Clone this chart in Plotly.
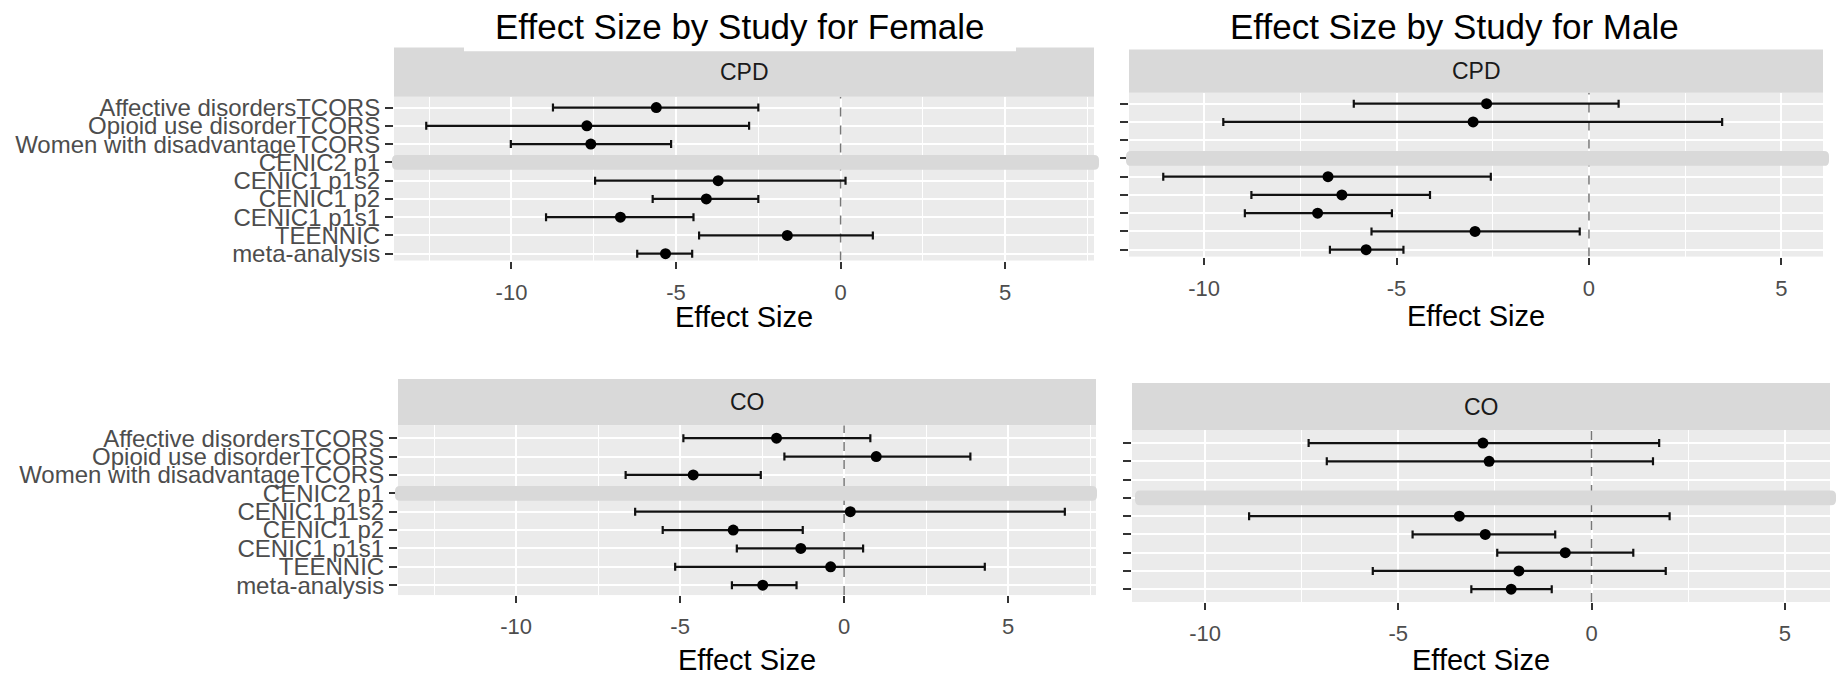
import plotly.graph_objects as go

# ---- data -------------------------------------------------------------
studies = [
    "Affective disordersTCORS",
    "Opioid use disorderTCORS",
    "Women with disadvantageTCORS",
    "CENIC2 p1",
    "CENIC1 p1s2",
    "CENIC1 p2",
    "CENIC1 p1s1",
    "TEENNIC",
    "meta-analysis",
]
x_ticks = [-10, -5, 0, 5]

female_cpd_est = [-5.60, -7.71, -7.59, None, -3.72, -4.08, -6.69, -1.62, -5.32]
female_cpd_lo = [-8.74, -12.59, -10.02, None, -7.46, -5.71, -8.95, -4.30, -6.18]
female_cpd_hi = [-2.50, -2.78, -5.15, None, 0.15, -2.50, -4.47, 0.98, -4.51]

male_cpd_est = [-2.66, -3.01, None, None, -6.78, -6.42, -7.05, -2.96, -5.79]
male_cpd_lo = [-6.11, -9.50, None, None, -11.06, -8.77, -8.94, -5.65, -6.73]
male_cpd_hi = [0.77, 3.46, None, None, -2.55, -4.13, -5.12, -0.24, -4.82]

female_co_est = [-2.06, 0.98, -4.60, None, 0.19, -3.38, -1.32, -0.41, -2.48]
female_co_lo = [-4.90, -1.82, -6.66, None, -6.37, -5.53, -3.27, -5.15, -3.42]
female_co_hi = [0.80, 3.85, -2.54, None, 6.73, -1.26, 0.58, 4.29, -1.45]

male_co_est = [-2.81, -2.65, None, None, -3.42, -2.75, -0.68, -1.88, -2.08]
male_co_lo = [-7.32, -6.85, None, None, -8.86, -4.63, -2.44, -5.66, -3.11]
male_co_hi = [1.75, 1.59, None, None, 2.02, -0.94, 1.08, 1.92, -1.03]

# ---- page geometry (pixels) --------------------------------------------
W, H = 1841, 682
FONT = "Liberation Sans, Arial, sans-serif"

# each panel: plot box, strip top, first/last row centres, x range, series
panels = [
    dict(x0=394, x1=1094, top=95, bottom=261, strip_top=45, row_top=106, row_bot=254,
         xr=[-13.57, 7.70], strip="CPD", labels=True,
         est=female_cpd_est, lo=female_cpd_lo, hi=female_cpd_hi,
         band=[392, 1099], axis_title_y=318),
    dict(x0=1129, x1=1823, top=91, bottom=257, strip_top=47, row_top=102, row_bot=250,
         xr=[-11.95, 6.08], strip="CPD", labels=False,
         est=male_cpd_est, lo=male_cpd_lo, hi=male_cpd_hi,
         band=[1126, 1829], axis_title_y=317),
    dict(x0=398, x1=1096, top=428, bottom=600, strip_top=381, row_top=441, row_bot=590,
         xr=[-13.60, 7.68], strip="CO", labels=True,
         est=female_co_est, lo=female_co_lo, hi=female_co_hi,
         band=[395, 1097], axis_title_y=666),
    dict(x0=1132, x1=1830, top=433, bottom=607, strip_top=385, row_top=446, row_bot=594,
         xr=[-11.89, 6.17], strip="CO", labels=False,
         est=male_co_est, lo=male_co_lo, hi=male_co_hi,
         band=[1135, 1836], axis_title_y=666),
]

n = len(studies)
row_pos = [n - i for i in range(n)]  # top study gets the highest value

fig = go.Figure()
shapes = []
annotations = []


def px_x(v):
    return v / W


def px_y(v):
    return 1 - v / H


for k, p in enumerate(panels):
    suffix = "" if k == 0 else str(k + 1)
    xref, yref = "x" + suffix, "y" + suffix

    step = (p["row_bot"] - p["row_top"]) / (n - 1)
    y_hi = n + (p["row_top"] - p["top"]) / step
    y_lo = 1 - (p["bottom"] - p["row_bot"]) / step

    # dashed reference line at zero, drawn over the grid but under the marks
    fig.add_trace(go.Scatter(
        x=[0, 0], y=[y_lo, y_hi], mode="lines", xaxis=xref, yaxis=yref,
        line=dict(color="#777777", width=1.5, dash="dash"),
        hoverinfo="skip", showlegend=False,
    ))

    # points with horizontal confidence intervals
    xs, ys, plus, minus = [], [], [], []
    for i in range(n):
        if p["est"][i] is None:
            continue
        xs.append(p["est"][i])
        ys.append(row_pos[i])
        plus.append(p["hi"][i] - p["est"][i])
        minus.append(p["est"][i] - p["lo"][i])
    fig.add_trace(go.Scatter(
        x=xs, y=ys, mode="markers", xaxis=xref, yaxis=yref,
        marker=dict(color="black", size=11),
        error_x=dict(type="data", symmetric=False, array=plus, arrayminus=minus,
                     color="#111111", thickness=2.2, width=4),
        hoverinfo="skip", showlegend=False,
    ))

    fig.update_layout(**{
        "xaxis" + suffix: dict(
            domain=[px_x(p["x0"]), px_x(p["x1"])], range=p["xr"], anchor=yref,
            tickvals=x_ticks, ticktext=[str(t) for t in x_ticks],
            showgrid=True, gridcolor="white", gridwidth=2, zeroline=False, showline=False,
            minor=dict(tickvals=[-12.5, -7.5, -2.5, 2.5, 7.5], showgrid=True,
                       gridcolor="white", gridwidth=1, ticks=""),
            ticks="outside", ticklen=7, tickwidth=2, tickcolor="#333333",
            ticklabelstandoff=5,
            tickfont=dict(family=FONT, size=22, color="#4D4D4D"),
            fixedrange=True,
        ),
        "yaxis" + suffix: dict(
            domain=[px_y(p["bottom"]), px_y(p["top"])], range=[y_lo, y_hi], anchor=xref,
            tickvals=row_pos,
            ticktext=studies if p["labels"] else [""] * n,
            showgrid=True, gridcolor="white", gridwidth=2, zeroline=False, showline=False,
            ticks="outside", ticklen=8, tickwidth=2, tickcolor="#333333",
            tickfont=dict(family=FONT, size=24, color="#4D4D4D"),
            fixedrange=True,
        ),
    })

    # facet strip
    shapes.append(dict(type="rect", xref="paper", yref="paper", layer="below",
                       x0=px_x(p["x0"]), x1=px_x(p["x1"]),
                       y0=px_y(p["top"]), y1=px_y(p["strip_top"]),
                       fillcolor="#D9D9D9", line=dict(width=0)))
    annotations.append(dict(xref="paper", yref="paper",
                            x=px_x((p["x0"] + p["x1"]) / 2),
                            y=px_y((p["top"] + p["strip_top"]) / 2),
                            text=p["strip"], showarrow=False,
                            font=dict(family=FONT, size=23, color="#1A1A1A"),
                            xanchor="center", yanchor="middle"))

    # rounded band over the CENIC2 p1 row (paper coordinates)
    yc = (p["row_top"] + 3 * step)
    bt, bb = px_y(yc - 7.5), px_y(yc + 7.5)
    bx0, bx1 = px_x(p["band"][0]), px_x(p["band"][1])
    rx, ry = 5 / W, 5 / H
    path = (f"M {bx0 + rx},{bb} L {bx1 - rx},{bb} Q {bx1},{bb} {bx1},{bb + ry} "
            f"L {bx1},{bt - ry} Q {bx1},{bt} {bx1 - rx},{bt} "
            f"L {bx0 + rx},{bt} Q {bx0},{bt} {bx0},{bt - ry} "
            f"L {bx0},{bb + ry} Q {bx0},{bb} {bx0 + rx},{bb} Z")
    shapes.append(dict(type="path", xref="paper", yref="paper", path=path, layer="above",
                       fillcolor="#D9D9D9", line=dict(width=0)))

    # x-axis title
    annotations.append(dict(xref="paper", yref="paper",
                            x=px_x((p["x0"] + p["x1"]) / 2), y=px_y(p["axis_title_y"]),
                            text="Effect Size", showarrow=False,
                            font=dict(family=FONT, size=29, color="black"),
                            xanchor="center", yanchor="middle"))

# white title box overlapping the top of the first strip
shapes.append(dict(type="rect", xref="paper", yref="paper", layer="above",
                   x0=px_x(464), x1=px_x(1016), y0=px_y(49), y1=px_y(0),
                   fillcolor="white", line=dict(width=0)))

for text, cx in [("Effect Size by Study for Female", 740),
                 ("Effect Size by Study for Male", 1454)]:
    annotations.append(dict(xref="paper", yref="paper", x=px_x(cx), y=px_y(24),
                            text=text, showarrow=False,
                            font=dict(family=FONT, size=35, color="black"),
                            xanchor="center", yanchor="middle"))

fig.update_layout(
    width=W, height=H, margin=dict(l=0, r=0, t=0, b=0),
    paper_bgcolor="white", plot_bgcolor="#EBEBEB",
    showlegend=False, shapes=shapes, annotations=annotations,
)

fig.write_html("out.html")
